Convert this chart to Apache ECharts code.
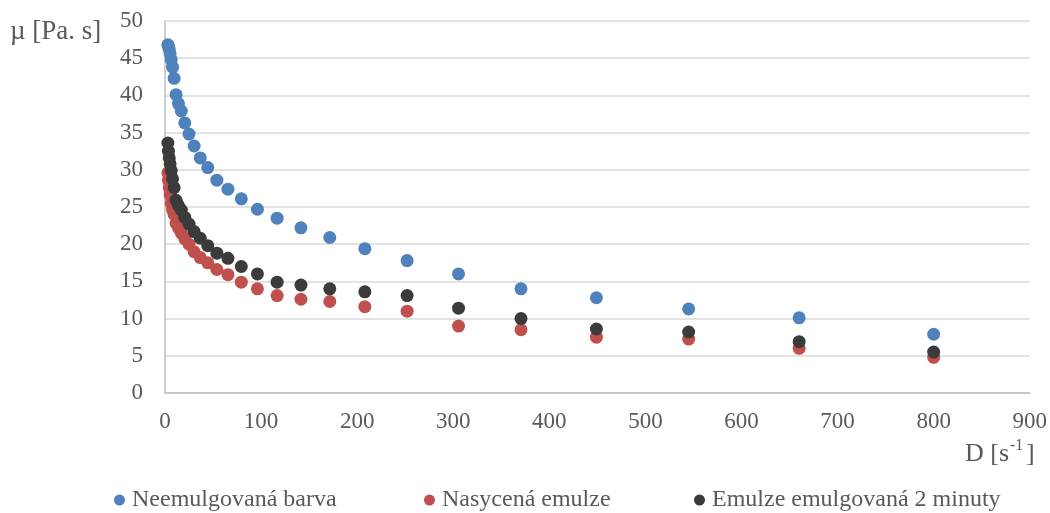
<!DOCTYPE html>
<html>
<head>
<meta charset="utf-8">
<script src="https://cdn.jsdelivr.net/npm/echarts@6/dist/echarts.min.js"></script>
<style>html,body{margin:0;padding:0;background:#fff}#c{width:1050px;height:513px}</style>
</head>
<body>
<div id="c"></div>
<script>
var shearRate = [3.0, 3.6, 4.4, 5.3, 6.5, 7.85, 9.5, 11.55, 14.0, 17.0, 20.6, 25.0, 30.3, 36.7, 44.5, 54.0, 65.5, 79.4, 96.2, 116.7, 141.5, 171.5, 208, 252, 305.5, 370.5, 449, 545, 660, 800];
var neemulgovana = [46.8, 46.6, 46.2, 45.6, 44.8, 43.8, 42.3, 40.1, 38.9, 37.9, 36.3, 34.8, 33.2, 31.6, 30.3, 28.6, 27.4, 26.1, 24.7, 23.5, 22.2, 20.9, 19.4, 17.8, 16.0, 14.0, 12.8, 11.3, 10.1, 7.9];
var nasycena = [29.6, 28.6, 27.6, 26.6, 25.5, 24.6, 24.0, 22.8, 22.2, 21.5, 20.7, 20.0, 19.0, 18.2, 17.5, 16.6, 15.9, 14.9, 14.0, 13.1, 12.6, 12.3, 11.6, 11.0, 9.0, 8.5, 7.5, 7.25, 6.0, 4.8];
var emulze2min = [33.6, 32.5, 31.6, 30.8, 29.9, 28.8, 27.6, 25.9, 25.2, 24.6, 23.6, 22.7, 21.7, 20.8, 19.8, 18.8, 18.1, 17.0, 16.0, 14.9, 14.5, 14.0, 13.6, 13.1, 11.4, 10.0, 8.6, 8.2, 6.9, 5.5];
var seriesNames = ['Neemulgovaná barva', 'Nasycená emulze', 'Emulze emulgovaná 2 minuty'];
var colors = ['#4F81BD', '#C0504D', '#3B3B3B'];

function pairs(ys) { return shearRate.map(function (x, i) { return [x, ys[i]]; }); }

var FONT = 'Liberation Serif';
var TXT = '#595959';
var chart = echarts.init(document.getElementById('c'));
var legendLefts = [109, 419, 689];
chart.setOption({
  animation: false,
  grid: { left: 165, right: 20, top: 21, height: 372 },
  xAxis: {
    type: 'value', min: 0, max: 900, interval: 100,
    axisLine: { show: true, lineStyle: { color: '#BFBFBF', width: 1.5 } },
    axisTick: { show: false },
    splitLine: { show: false },
    axisLabel: { color: TXT, fontFamily: FONT, fontSize: 23, margin: 17 }
  },
  yAxis: {
    type: 'value', min: 0, max: 50, interval: 5,
    axisLine: { show: true, lineStyle: { color: '#BFBFBF', width: 1.5 } },
    axisTick: { show: false },
    splitLine: { show: true, lineStyle: { color: '#D9D9D9', width: 1.5 } },
    axisLabel: { color: TXT, fontFamily: FONT, fontSize: 23, margin: 22 }
  },
  legend: legendLefts.map(function (l, i) {
    return {
      data: [seriesNames[i]], left: l, top: 483, icon: 'circle', itemWidth: 11, itemHeight: 11, itemGap: 0,
      textStyle: { color: TXT, fontFamily: FONT, fontSize: 24, padding: [0, 0, 0, 2] }
    };
  }),
  graphic: [
    { type: 'text', left: 10, top: 18, style: { text: 'µ [Pa. s]', font: '27px "Liberation Serif"', fill: TXT } },
    { type: 'text', left: 965, top: 441, style: { text: 'D [s', font: '26px "Liberation Serif"', fill: TXT } },
    { type: 'text', left: 1010, top: 438, style: { text: '-1', font: '16px "Liberation Serif"', fill: TXT } },
    { type: 'text', left: 1026, top: 441, style: { text: ']', font: '26px "Liberation Serif"', fill: TXT } }
  ],
  series: [
    { name: seriesNames[0], type: 'scatter', data: pairs(neemulgovana), symbolSize: 13, itemStyle: { color: colors[0], opacity: 1 } },
    { name: seriesNames[1], type: 'scatter', data: pairs(nasycena), symbolSize: 13, itemStyle: { color: colors[1], opacity: 1 } },
    { name: seriesNames[2], type: 'scatter', data: pairs(emulze2min), symbolSize: 13, itemStyle: { color: colors[2], opacity: 1 } }
  ]
});
</script>
</body>
</html>
